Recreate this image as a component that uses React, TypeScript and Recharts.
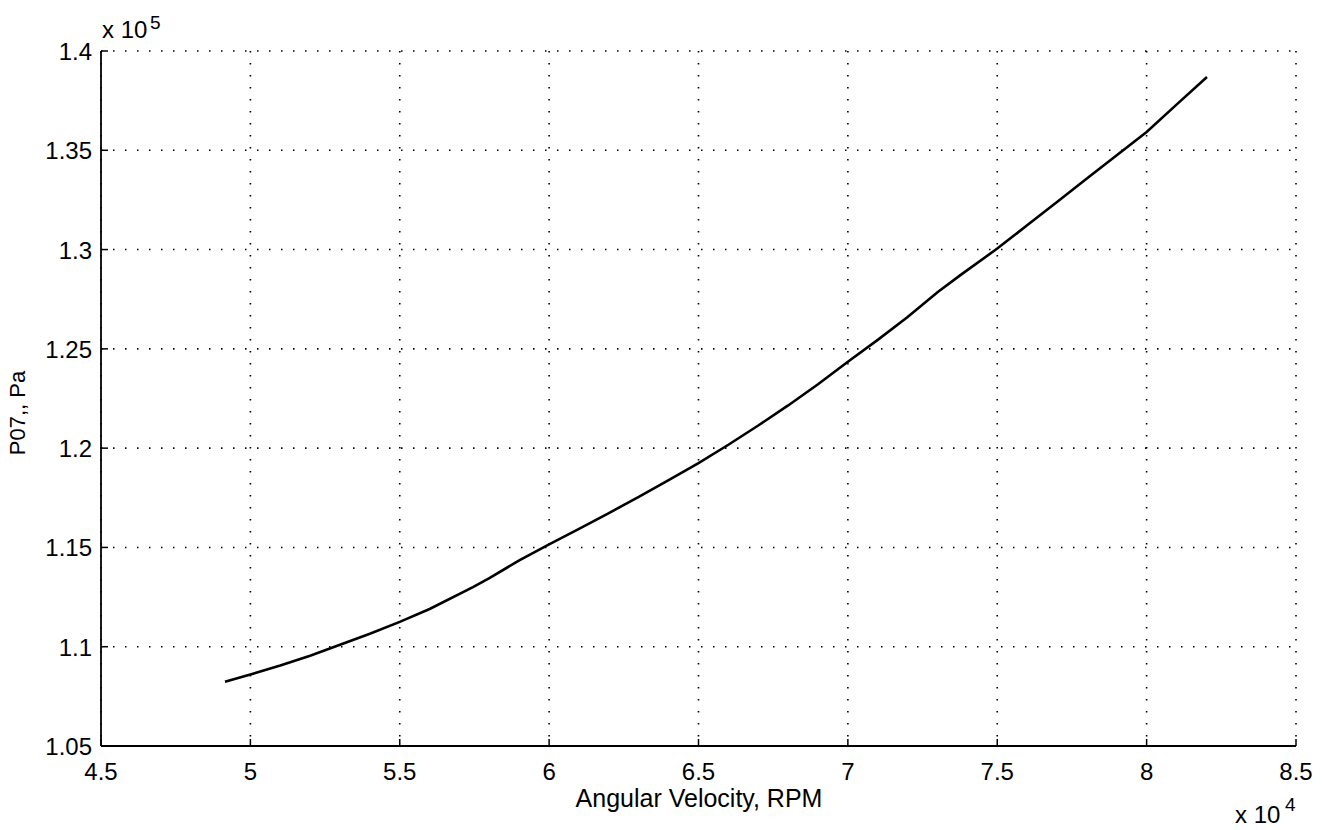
import React from 'react'
import { LineChart, Line, XAxis, YAxis, CartesianGrid } from 'recharts'

// angular velocity, RPM
const rpm = [
  49150, 50000, 51000, 52000, 53000, 54000, 55000, 56000, 57450, 58000, 59000, 60000, 61000, 62000,
  63000, 64000, 65000, 66000, 67000, 68000, 69000, 70000, 71000, 72000, 73000, 73800, 75000, 76000,
  77000, 78000, 79000, 80000, 81000, 82020,
]
// P07 total pressure, Pa
const p07 = [
  108230, 108600, 109050, 109550, 110100, 110650, 111250, 111900, 113000, 113450, 114350, 115150,
  115930, 116730, 117550, 118390, 119250, 120170, 121140, 122150, 123220, 124350, 125450, 126600,
  127850, 128750, 130050, 131220, 132400, 133580, 134750, 135920, 137300, 138690,
]

const xTicks = [45000, 50000, 55000, 60000, 65000, 70000, 75000, 80000, 85000]
const yTicks = [105000, 110000, 115000, 120000, 125000, 130000, 135000, 140000]

const xLabel = 'Angular Velocity, RPM'
const yLabel = 'P07,, Pa'

const FONT = '"Liberation Sans", Arial, Helvetica, sans-serif'
const TICK = 7

const data = rpm.map((r, i) => ({ rpm: r, p: p07[i] }))

const fmtX = (v: number) => String(+(v / 1e4).toFixed(2))
const fmtY = (v: number) => String(+(v / 1e5).toFixed(2))

const BottomTick = ({ x, y, payload }: any) => (
  <g>
    <line x1={x} y1={y} x2={x} y2={y - TICK} stroke="#000" strokeWidth={1.5} />
    <text x={x} y={y + 34} textAnchor="middle" fontFamily={FONT} fontSize={24} fill="#000">
      {fmtX(payload.value)}
    </text>
  </g>
)

const TopTick = ({ x, y }: any) => (
  <line x1={x} y1={y} x2={x} y2={y + TICK} stroke="#000" strokeWidth={1.5} />
)

const LeftTick = ({ x, y, payload }: any) => (
  <g>
    <line x1={x} y1={y} x2={x + TICK} y2={y} stroke="#000" strokeWidth={1.5} />
    <text x={x - 9} y={y + 9} textAnchor="end" fontFamily={FONT} fontSize={24} fill="#000">
      {fmtY(payload.value)}
    </text>
  </g>
)

const RightTick = ({ x, y }: any) => (
  <line x1={x} y1={y} x2={x - TICK} y2={y} stroke="#000" strokeWidth={1.5} />
)

export default function App() {
  const frame = { stroke: '#000', strokeWidth: 1.8 }
  return (
    <div style={{ position: 'absolute', left: 0, top: 0, background: '#fff' }}>
      <LineChart width={1328} height={830} data={data} margin={{ top: 51, right: 32, bottom: 0, left: 0 }}>
        <CartesianGrid stroke="#000" strokeWidth={1.6} strokeDasharray="1.5 10.5" />
        <XAxis
          dataKey="rpm"
          type="number"
          domain={[45000, 85000]}
          ticks={xTicks}
          interval={0}
          height={84}
          tickSize={0}
          tickMargin={0}
          tickLine={false}
          axisLine={frame}
          tick={(props: any) => <BottomTick {...props} />}
        />
        <XAxis
          xAxisId="top"
          orientation="top"
          dataKey="rpm"
          type="number"
          domain={[45000, 85000]}
          ticks={xTicks}
          interval={0}
          height={0}
          tickSize={0}
          tickMargin={0}
          tickLine={false}
          axisLine={frame}
          tick={(props: any) => <TopTick {...props} />}
        />
        <YAxis
          type="number"
          domain={[105000, 140000]}
          ticks={yTicks}
          interval={0}
          width={101}
          tickSize={0}
          tickMargin={0}
          tickLine={false}
          axisLine={frame}
          tick={(props: any) => <LeftTick {...props} />}
        />
        <YAxis
          yAxisId="right"
          orientation="right"
          type="number"
          domain={[105000, 140000]}
          ticks={yTicks}
          interval={0}
          width={0}
          tickSize={0}
          tickMargin={0}
          tickLine={false}
          axisLine={frame}
          tick={(props: any) => <RightTick {...props} />}
        />
        <Line
          type="linear"
          dataKey="p"
          stroke="#000"
          strokeWidth={2.6}
          dot={false}
          activeDot={false}
          isAnimationActive={false}
        />
        <text x={699} y={807} textAnchor="middle" fontFamily={FONT} fontSize={25} fill="#000">
          {xLabel}
        </text>
        <text
          x={25}
          y={413}
          transform="rotate(-90 25 413)"
          textAnchor="middle"
          fontFamily={FONT}
          fontSize={22}
          fill="#000"
        >
          {yLabel}
        </text>
        <text x={102} y={38} fontFamily={FONT} fontSize={24} fill="#000">
          x 10
          <tspan x={150} y={29} fontSize={19}>5</tspan>
        </text>
        <text x={1235} y={823} fontFamily={FONT} fontSize={24} fill="#000">
          x 10
          <tspan x={1285} y={811} fontSize={19}>4</tspan>
        </text>
      </LineChart>
    </div>
  )
}
